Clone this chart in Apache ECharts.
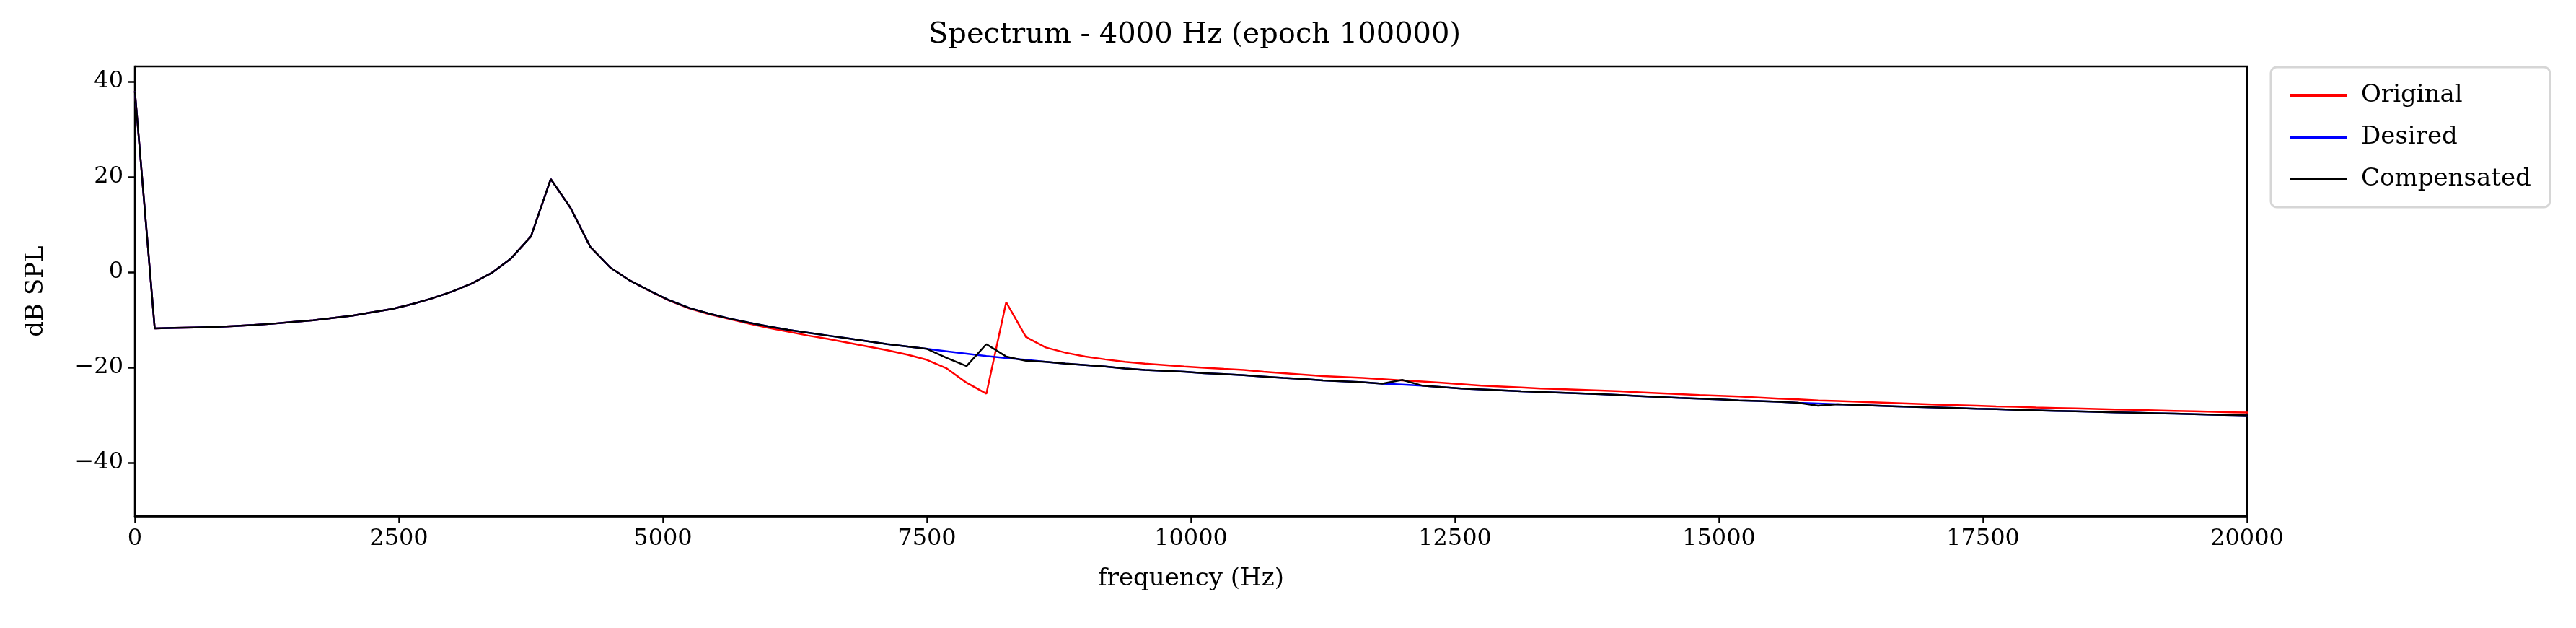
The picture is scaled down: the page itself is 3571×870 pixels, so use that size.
<!DOCTYPE html>
<html>
<head>
<meta charset="utf-8">
<script src="https://cdn.jsdelivr.net/npm/echarts@6/dist/echarts.min.js"></script>
<style>
    html, body { margin: 0; padding: 0; background: #fff; }
    #chart { width: 3571px; height: 870px; }
</style>
</head>
<body>
<div id="chart"></div>
<script>
    // FFT bins: 48 kHz / 256 points -> 187.5 Hz per bin
    var binHz = 187.5;

    var desired = [
        38.0, -11.8, -11.7, -11.6, -11.5, -11.3, -11.1, -10.8, -10.45, -10.1,
        -9.6, -9.1, -8.4, -7.7, -6.7, -5.5, -4.1, -2.4, -0.2, 2.9,
        7.5, 19.55, 13.5, 5.3, 1.0, -1.76, -3.9, -5.9, -7.5, -8.7,
        -9.7, -10.6, -11.4, -12.1, -12.7, -13.3, -13.9, -14.5, -15.1, -15.6,
        -16.1, -16.6, -17.1, -17.6, -18.0, -18.4, -18.8, -19.2, -19.5, -19.8,
        -20.2, -20.5, -20.7, -20.9, -21.2, -21.4, -21.6, -21.9, -22.2, -22.4,
        -22.7, -22.9, -23.1, -23.4, -23.6, -23.8, -24.1, -24.4, -24.6, -24.8,
        -25.0, -25.15, -25.3, -25.45, -25.6, -25.8, -26.0, -26.2, -26.4, -26.55,
        -26.7, -26.9, -27.05, -27.2, -27.4, -27.55, -27.7, -27.85, -28.0, -28.15,
        -28.3, -28.4, -28.5, -28.65, -28.75, -28.9, -29.0, -29.1, -29.2, -29.3,
        -29.4, -29.5, -29.6, -29.7, -29.8, -29.9, -30.0, -30.1
    ];

    var original = [
        38.0, -11.8, -11.7, -11.6, -11.5, -11.3, -11.1, -10.8, -10.45, -10.1,
        -9.6, -9.1, -8.4, -7.7, -6.7, -5.5, -4.1, -2.4, -0.2, 2.9,
        7.5, 19.55, 13.5, 5.3, 1.0, -1.76, -3.95, -6.0, -7.6, -8.8,
        -9.8, -10.8, -11.7, -12.5, -13.3, -14.0, -14.8, -15.6, -16.4, -17.3,
        -18.4, -20.2, -23.2, -25.5, -6.3, -13.6, -15.8, -16.9, -17.7, -18.3,
        -18.8, -19.2, -19.5, -19.8, -20.05, -20.3, -20.5, -20.9, -21.2, -21.5,
        -21.8, -22.0, -22.2, -22.45, -22.7, -22.95, -23.2, -23.5, -23.8, -24.0,
        -24.2, -24.4, -24.55, -24.7, -24.85, -25.0, -25.2, -25.4, -25.6, -25.8,
        -25.95, -26.1, -26.3, -26.55, -26.7, -26.9, -27.05, -27.2, -27.35, -27.5,
        -27.65, -27.8, -27.9, -28.0, -28.15, -28.25, -28.4, -28.5, -28.6, -28.7,
        -28.8, -28.9, -29.0, -29.1, -29.2, -29.3, -29.4, -29.5
    ];

    var compensated = desired.slice(0);
    compensated[41] = -18.0;
    compensated[42] = -19.7;
    compensated[43] = -15.1;
    compensated[44] = -17.7;
    compensated[45] = -18.6;
    compensated[64] = -22.6;
    compensated[85] = -28.0;

    var yTicks = [-40, -20, 0, 20, 40];

    function pairs(arr) {
        return arr.map(function (v, i) { return [i * binHz, v]; });
    }

    var font = '"DejaVu Serif", "Liberation Serif", serif';
    var chart = echarts.init(document.getElementById('chart'));

    function lineSeries(name, color, data) {
        return {
            name: name,
            type: 'line',
            data: pairs(data),
            showSymbol: false,
            symbol: 'none',
            animation: false,
            lineStyle: { color: color, width: 2.5 },
            itemStyle: { color: color }
        };
    }

    chart.setOption({
        animation: false,
        textStyle: { fontFamily: font },
        title: {
            text: 'Spectrum - 4000 Hz (epoch 100000)',
            left: 1651,
            textAlign: 'center',
            top: 24,
            textStyle: { fontFamily: font, fontSize: 40, fontWeight: 'normal', color: '#000' }
        },
        legend: {
            orient: 'vertical',
            left: 3148,
            top: 93,
            padding: [22, 26, 22, 26],
            itemGap: 24,
            itemWidth: 80,
            itemHeight: 4,
            icon: 'rect',
            borderColor: '#d6d6d6',
            borderWidth: 3,
            borderRadius: 8,
            textStyle: { fontFamily: font, fontSize: 34, color: '#000', padding: [0, 0, 0, 14] },
            data: ['Original', 'Desired', 'Compensated']
        },
        grid: {
            left: 187, right: 456, top: 92, bottom: 155,
            show: true, borderColor: '#000', borderWidth: 2.5, backgroundColor: 'transparent'
        },
        xAxis: {
            type: 'value',
            min: 0, max: 20000, interval: 2500,
            name: 'frequency (Hz)',
            nameLocation: 'middle',
            nameGap: 70,
            nameTextStyle: { fontFamily: font, fontSize: 34, color: '#000' },
            axisLine: { onZero: false, lineStyle: { color: '#000', width: 2.5 } },
            axisTick: { inside: false, length: 9, lineStyle: { color: '#000', width: 2.5 } },
            axisLabel: {
                fontFamily: font, fontSize: 32, color: '#000', margin: 16,
                formatter: function (v) { return String(v); }
            },
            splitLine: { show: false }
        },
        yAxis: {
            type: 'value',
            min: -51.2, max: 43.2,
            name: 'dB SPL',
            nameLocation: 'middle',
            nameGap: 120,
            nameTextStyle: { fontFamily: font, fontSize: 34, color: '#000' },
            axisLine: { show: true, onZero: false, lineStyle: { color: '#000', width: 2.5 } },
            axisTick: { show: true, length: 9, customValues: yTicks, lineStyle: { color: '#000', width: 2.5 } },
            axisLabel: {
                fontFamily: font, fontSize: 32, color: '#000', margin: 16,
                customValues: yTicks,
                formatter: function (v) { return String(v).replace('-', '\u2212'); }
            },
            splitLine: { show: false }
        },
        series: [
            lineSeries('Original', '#ff0000', original),
            lineSeries('Desired', '#0000ff', desired),
            lineSeries('Compensated', '#000000', compensated)
        ]
    });
</script>
</body>
</html>
